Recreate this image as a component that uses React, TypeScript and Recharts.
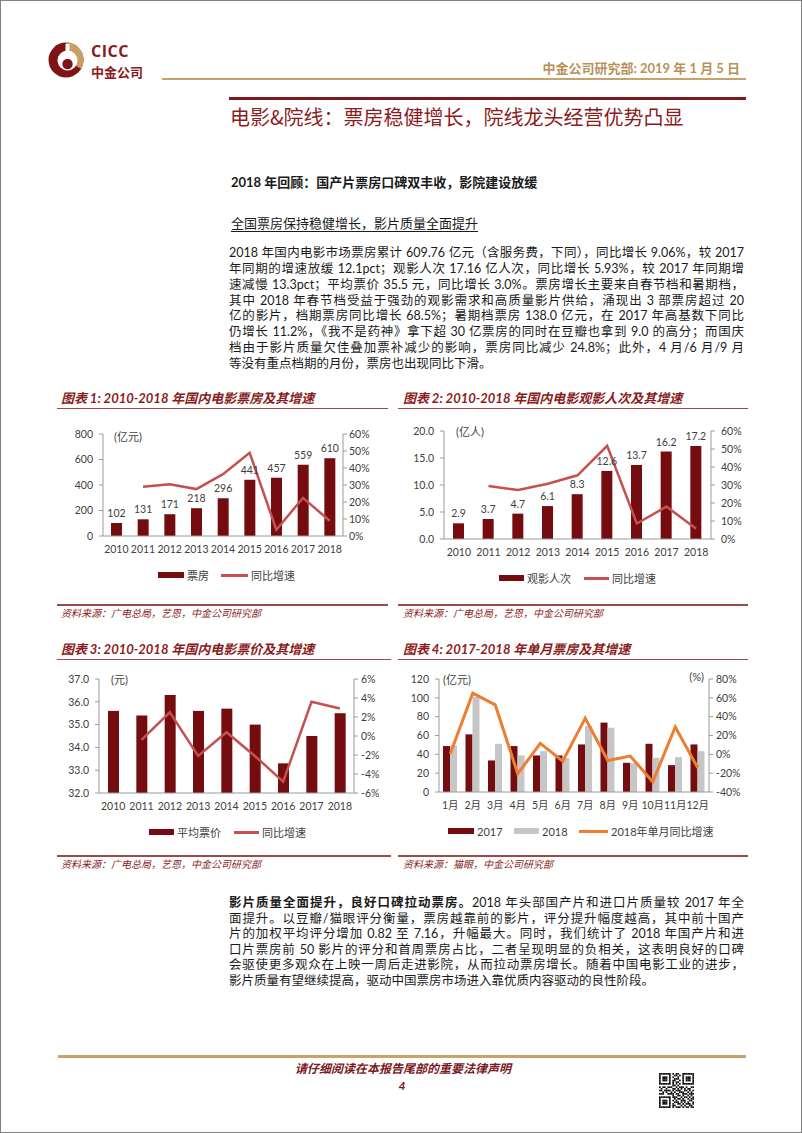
import React from 'react';
import { ComposedChart, Bar, Line, XAxis, YAxis, LabelList } from 'recharts';

// ---------- data ----------
const years = ['2010', '2011', '2012', '2013', '2014', '2015', '2016', '2017', '2018'];
const boxOffice = [102, 131, 171, 218, 296, 441, 457, 559, 610];
const boxOfficeGrowth = [null, 29.0, 30.4, 27.6, 36.4, 48.9, 3.7, 22.4, 9.0];
const admissions = [2.9, 3.7, 4.7, 6.1, 8.3, 12.6, 13.7, 16.2, 17.2];
const admissionsGrowth = [null, 29.4, 27.2, 30.7, 35.4, 51.8, 8.6, 18.0, 5.7];
const avgPrice = [35.6, 35.4, 36.3, 35.6, 35.7, 35.0, 33.3, 34.5, 35.5];
const priceGrowth = [null, -0.4, 2.5, -2.1, 0.4, -2.1, -4.8, 3.6, 2.9];
const months = ['1月', '2月', '3月', '4月', '5月', '6月', '7月', '8月', '9月', '10月', '11月', '12月'];
const monthly2017 = [48.8, 61.2, 33.5, 48.8, 38.8, 38.8, 50.5, 73.7, 31.0, 51.2, 28.5, 50.5];
const monthly2018 = [49.5, 101.0, 51.2, 39.0, 43.4, 36.0, 70.0, 68.3, 30.5, 36.3, 37.0, 43.4];
const monthlyGrowth2018 = [0.6, 65.0, 52.6, -20.7, 11.7, -7.2, 38.4, -6.5, -1.8, -29.2, 29.1, -14.3];

const ticksBox = [0, 200, 400, 600, 800];
const ticksAdm = [0, 5, 10, 15, 20];
const ticksPrice = [32, 33, 34, 35, 36, 37];
const ticksMonthly = [0, 20, 40, 60, 80, 100, 120];
const ticksPct60 = [0, 10, 20, 30, 40, 50, 60];
const ticksPct6 = [-6, -4, -2, 0, 2, 4, 6];
const ticksPct80 = [-40, -20, 0, 20, 40, 60, 80];

const para1 = [
  '2018 年国内电影市场票房累计 609.76 亿元（含服务费，下同），同比增长 9.06%，较 2017',
  '年同期的增速放缓 12.1pct；观影人次 17.16 亿人次，同比增长 5.93%，较 2017 年同期增',
  '速减慢 13.3pct；平均票价 35.5 元，同比增长 3.0%。票房增长主要来自春节档和暑期档，',
  '其中 2018 年春节档受益于强劲的观影需求和高质量影片供给，涌现出 3 部票房超过 20',
  '亿的影片，档期票房同比增长 68.5%；暑期档票房 138.0 亿元，在 2017 年高基数下同比',
  '仍增长 11.2%，《我不是药神》拿下超 30 亿票房的同时在豆瓣也拿到 9.0 的高分；而国庆',
  '档由于影片质量欠佳叠加票补减少的影响，票房同比减少 24.8%；此外，4 月/6 月/9 月',
  '等没有重点档期的月份，票房也出现同比下滑。',
];
const para2Bold = '影片质量全面提升，良好口碑拉动票房。';
const para2 = [
  '2018 年头部国产片和进口片质量较 2017 年全',
  '面提升。以豆瓣/猫眼评分衡量，票房越靠前的影片，评分提升幅度越高，其中前十国产',
  '片的加权平均评分增加 0.82 至 7.16，升幅最大。同时，我们统计了 2018 年国产片和进',
  '口片票房前 50 影片的评分和首周票房占比，二者呈现明显的负相关，这表明良好的口碑',
  '会驱使更多观众在上映一周后走进影院，从而拉动票房增长。随着中国电影工业的进步，',
  '影片质量有望继续提高，驱动中国票房市场进入靠优质内容驱动的良性阶段。',
];

const qr = [
  '111111101011001111111',
  '100000100110101000001',
  '101110101001001011101',
  '101110100111001011101',
  '101110101100101011101',
  '100000101011001000001',
  '111111101010101111111',
  '000000001101000000000',
  '101101110010111010011',
  '010010001101010101100',
  '110111101011100110101',
  '001010010100111001010',
  '111001111011001110111',
  '000000001001101001010',
  '111111101110010110101',
  '100000100101101001011',
  '101110101010011100110',
  '101110100111010101001',
  '101110101001101011101',
  '100000101100010100110',
  '111111101011101011011',
];

// ---------- styles ----------
const FONT = 'Lato, "Noto Sans CJK SC", sans-serif';
const DARK = '#740C10';
const LINE_RED = '#C5504F';
const ORANGE = '#ED7D31';
const GRAY_BAR = '#C6C6C6';
const AXIS = '#9A9A9A';
const TXT = '#404040';
const TITLE_RED = '#8B1C1C';
const TAN = '#C9A26A';
const RULE = '#9B4A4A';

const tickStyle = { fontSize: 10.5, fill: TXT, fontFamily: FONT };
const axisLine = { stroke: AXIS, strokeWidth: 1 };
const tickLineStyle = { stroke: AXIS };

function Txt(props: any) {
  const { x, y, size, color = '#1a1a1a', bold, italic, children, anchor = 'left', style, lhf = 1.4 } = props;
  const lh = Math.round(size * lhf);
  const s: any = {
    position: 'absolute',
    top: y - lh / 2,
    fontSize: size,
    lineHeight: lh + 'px',
    color,
    fontWeight: bold ? 700 : 400,
    fontStyle: italic ? 'italic' : 'normal',
    whiteSpace: 'nowrap',
    fontFamily: FONT,
    ...style,
  };
  if (anchor === 'left') s.left = x;
  else if (anchor === 'right') s.right = 802 - x;
  else {
    s.left = x;
    s.transform = 'translateX(-50%)';
  }
  return <div style={s}>{children}</div>;
}

function HLine({ x1, x2, y, h = 1, color }: any) {
  return <div style={{ position: 'absolute', left: x1, top: y - h / 2, width: x2 - x1, height: h, background: color }} />;
}

function LegendItem({ x, y, kind, color, label, w = 26 }: any) {
  const hh = kind === 'bar' ? 6 : 3;
  return (
    <>
      <div style={{ position: 'absolute', left: x, top: y - hh / 2, width: w, height: hh, background: color }} />
      <Txt x={x + w + 3} y={y} size={11} color={TXT}>{label}</Txt>
    </>
  );
}

function ChartHeader({ x1, x2, tx, y, title, srcY, source }: any) {
  return (
    <>
      <Txt x={tx} y={y} size={13} bold italic color={TITLE_RED}>{title}</Txt>
      <HLine x1={x1} x2={x2} y={y + 10.5} h={1.2} color={RULE} />
      <HLine x1={x1} x2={x2} y={srcY} h={1.2} color={RULE} />
      <Txt x={tx} y={srcY + 7.5} size={10} italic color={TITLE_RED}>{source}</Txt>
    </>
  );
}

const pctFmt = (v: number) => `${v}%`;
const oneDec = (v: number) => v.toFixed(1);

function Chart1() {
  const data = years.map((y, i) => ({ name: y, v: boxOffice[i], g: boxOfficeGrowth[i] }));
  return (
    <div style={{ position: 'absolute', left: 56, top: 415 }}>
      <ComposedChart width={340} height={140} data={data} margin={{ top: 18, right: 0, bottom: 0, left: 0 }}>
        <XAxis dataKey="name" interval={0} axisLine={axisLine} tickLine={false} tickSize={6} tickMargin={4} height={20} tick={tickStyle} />
        <YAxis yAxisId="l" width={46} domain={[0, 800]} ticks={ticksBox} axisLine={axisLine} tickLine={tickLineStyle} tickSize={4} tickMargin={6} tick={tickStyle} />
        <YAxis yAxisId="r" orientation="right" width={54} domain={[0, 60]} ticks={ticksPct60} tickFormatter={pctFmt} axisLine={axisLine} tickLine={tickLineStyle} tickSize={4} tickMargin={2} tick={tickStyle} />
        <Bar yAxisId="l" dataKey="v" fill={DARK} barSize={11} isAnimationActive={false}>
          <LabelList dataKey="v" position="top" offset={6} fill={TXT} fontSize={10.5} fontFamily={FONT} />
        </Bar>
        <Line yAxisId="r" dataKey="g" type="linear" stroke={LINE_RED} strokeWidth={2.5} dot={false} isAnimationActive={false} />
      </ComposedChart>
    </div>
  );
}

function Chart2() {
  const data = years.map((y, i) => ({ name: y, v: admissions[i], g: admissionsGrowth[i] }));
  return (
    <div style={{ position: 'absolute', left: 397, top: 412 }}>
      <ComposedChart width={355} height={146} data={data} margin={{ top: 18, right: 0, bottom: 0, left: 0 }}>
        <XAxis dataKey="name" interval={0} axisLine={axisLine} tickLine={false} tickSize={6} tickMargin={4} height={20} tick={tickStyle} />
        <YAxis yAxisId="l" width={46} domain={[0, 20]} ticks={ticksAdm} tickFormatter={oneDec} axisLine={axisLine} tickLine={tickLineStyle} tickSize={4} tickMargin={6} tick={tickStyle} />
        <YAxis yAxisId="r" orientation="right" width={42} domain={[0, 60]} ticks={ticksPct60} tickFormatter={pctFmt} axisLine={axisLine} tickLine={tickLineStyle} tickSize={4} tickMargin={6} tick={tickStyle} />
        <Bar yAxisId="l" dataKey="v" fill={DARK} barSize={11} isAnimationActive={false}>
          <LabelList dataKey="v" position="top" offset={6} fill={TXT} fontSize={10.5} fontFamily={FONT} formatter={(v: any) => Number(v).toFixed(1)} />
        </Bar>
        <Line yAxisId="r" dataKey="g" type="linear" stroke={LINE_RED} strokeWidth={2.5} dot={false} isAnimationActive={false} />
      </ComposedChart>
    </div>
  );
}

function Chart3() {
  const data = years.map((y, i) => ({ name: y, v: avgPrice[i], g: priceGrowth[i] }));
  return (
    <div style={{ position: 'absolute', left: 56, top: 660 }}>
      <ComposedChart width={340} height={152} data={data} margin={{ top: 18, right: 0, bottom: 0, left: 0 }}>
        <XAxis dataKey="name" interval={0} axisLine={axisLine} tickLine={false} tickSize={6} tickMargin={4} height={20} tick={tickStyle} />
        <YAxis yAxisId="l" width={42} domain={[32, 37]} ticks={ticksPrice} tickFormatter={oneDec} axisLine={axisLine} tickLine={tickLineStyle} tickSize={4} tickMargin={6} tick={tickStyle} />
        <YAxis yAxisId="r" orientation="right" width={43} domain={[-6, 6]} ticks={ticksPct6} tickFormatter={pctFmt} axisLine={axisLine} tickLine={tickLineStyle} tickSize={4} tickMargin={3} tick={tickStyle} />
        <Bar yAxisId="l" dataKey="v" fill={DARK} barSize={11} isAnimationActive={false} />
        <Line yAxisId="r" dataKey="g" type="linear" stroke={LINE_RED} strokeWidth={2.5} dot={false} isAnimationActive={false} />
      </ComposedChart>
    </div>
  );
}

function Chart4() {
  const data = months.map((m, i) => ({ name: m, a: monthly2017[i], b: monthly2018[i], g: monthlyGrowth2018[i] }));
  return (
    <div style={{ position: 'absolute', left: 397, top: 660 }}>
      <ComposedChart width={355} height={151} data={data} margin={{ top: 18, right: 0, bottom: 0, left: 0 }} barGap={0}>
        <XAxis dataKey="name" interval={0} axisLine={axisLine} tickLine={false} tickSize={6} tickMargin={4} height={20} tick={tickStyle} />
        <YAxis yAxisId="l" width={41} domain={[0, 120]} ticks={ticksMonthly} axisLine={axisLine} tickLine={tickLineStyle} tickSize={4} tickMargin={6} tick={tickStyle} />
        <YAxis yAxisId="r" orientation="right" width={44} domain={[-40, 80]} ticks={ticksPct80} tickFormatter={pctFmt} axisLine={axisLine} tickLine={tickLineStyle} tickSize={4} tickMargin={3} tick={tickStyle} />
        <Bar yAxisId="l" dataKey="a" fill={DARK} barSize={7} isAnimationActive={false} />
        <Bar yAxisId="l" dataKey="b" fill={GRAY_BAR} barSize={7} isAnimationActive={false} />
        <Line yAxisId="r" dataKey="g" type="linear" stroke={ORANGE} strokeWidth={3} dot={false} isAnimationActive={false} />
      </ComposedChart>
    </div>
  );
}

function Logo() {
  return (
    <svg style={{ position: 'absolute', left: 47, top: 41 }} width={36} height={36} viewBox="0 0 36 36">
      <circle cx={18} cy={18} r={17.5} fill="#7E1416" />
      <path d="M18 0.5 A17.5 17.5 0 0 1 33.2 26.7 L18 18 Z" fill="#C9A064" />
      <circle cx={19.5} cy={18.5} r={10} fill="#fff" />
      <circle cx={19.5} cy={22} r={5.2} fill="#7E1416" />
      <rect x={17.5} y={2} width={4} height={12} fill="#fff" />
    </svg>
  );
}

function QR() {
  const n = qr.length;
  const s = 35 / n;
  const cells: any[] = [];
  qr.forEach((row, r) =>
    row.split('').forEach((c, k) => {
      if (c === '1') cells.push(<rect key={r + '-' + k} x={k * s} y={r * s} width={s + 0.05} height={s + 0.05} fill="#111" />);
    })
  );
  return (
    <svg style={{ position: 'absolute', left: 658, top: 1072 }} width={35} height={35}>
      {cells}
    </svg>
  );
}

export default function App() {
  const lineStyle: any = {
    height: 15.85,
    lineHeight: '15.85px',
    fontSize: 12.5,
    textAlign: 'justify',
    textAlignLast: 'justify',
    color: '#1a1a1a',
    fontFamily: FONT,
    overflow: 'visible',
  };
  return (
    <div
      style={{
        position: 'absolute',
        left: 0,
        top: 0,
        width: 802,
        height: 1133,
        background: '#fff',
        border: '1px solid #808080',
        boxSizing: 'border-box',
        overflow: 'hidden',
        fontFamily: FONT,
      }}
    >
      {/* header */}
      <Logo />
      <Txt x={90} y={49.5} size={16} lhf={1.0} bold color="#8B1A1A" style={{ fontFamily: '"Open Sans", sans-serif', letterSpacing: 0.5 }}>CICC</Txt>
      <Txt x={90} y={70} size={13} lhf={1.0} bold color="#8B1A1A" style={{ fontFamily: '"Noto Sans CJK SC", sans-serif' }}>中金公司</Txt>
      <Txt x={741} y={67} size={13} bold color="#B8915A" anchor="right">中金公司研究部: 2019 年 1 月 5 日</Txt>
      <HLine x1={161} x2={745} y={77.5} h={2} color={TAN} />
      <HLine x1={228} x2={745} y={97.5} h={3} color="#7A1A1F" />
      <Txt x={229} y={116} size={20} color={TITLE_RED} style={{ fontFamily: '"Noto Sans CJK SC", sans-serif' }}>电影&院线：票房稳健增长，院线龙头经营优势凸显</Txt>

      <Txt x={230} y={181} size={13} bold>2018 年回顾：国产片票房口碑双丰收，影院建设放缓</Txt>
      <Txt x={230} y={222} size={13} style={{ textDecoration: 'underline', textUnderlineOffset: 3 }}>全国票房保持稳健增长，影片质量全面提升</Txt>

      <div style={{ position: 'absolute', left: 228, top: 244, width: 515 }}>
        {para1.map((l, i) => (
          <div key={i} style={{ ...lineStyle, textAlignLast: i === para1.length - 1 ? 'left' : 'justify' }}>{l}</div>
        ))}
      </div>

      {/* charts row 1 */}
      <ChartHeader x1={56} x2={387} tx={60} y={397} title="图表 1: 2010-2018 年国内电影票房及其增速" srcY={604} source="资料来源：广电总局，艺恩，中金公司研究部" />
      <ChartHeader x1={397} x2={747} tx={402} y={397} title="图表 2: 2010-2018 年国内电影观影人次及其增速" srcY={604} source="资料来源：广电总局，艺恩，中金公司研究部" />
      <Chart1 />
      <Chart2 />
      <Txt x={113} y={435} size={11} color={TXT}>(亿元)</Txt>
      <Txt x={455} y={430} size={11} color={TXT}>(亿人)</Txt>
      <LegendItem x={157} y={574} kind="bar" color={DARK} label="票房" />
      <LegendItem x={220} y={574} kind="line" color={LINE_RED} label="同比增速" w={27} />
      <LegendItem x={498} y={577} kind="bar" color={DARK} label="观影人次" w={25} />
      <LegendItem x={583} y={577} kind="line" color={LINE_RED} label="同比增速" w={25} />

      {/* charts row 2 */}
      <ChartHeader x1={56} x2={390} tx={60} y={648} title="图表 3: 2010-2018 年国内电影票价及其增速" srcY={855} source="资料来源：广电总局，艺恩，中金公司研究部" />
      <ChartHeader x1={397} x2={747} tx={402} y={648} title="图表 4: 2017-2018 年单月票房及其增速" srcY={855} source="资料来源：猫眼，中金公司研究部" />
      <Chart3 />
      <Chart4 />
      <Txt x={110} y={678} size={11} color={TXT}>(元)</Txt>
      <Txt x={442} y={678} size={11} color={TXT}>(亿元)</Txt>
      <Txt x={705} y={675} size={11} color={TXT} anchor="right">(%)</Txt>
      <LegendItem x={148} y={831} kind="bar" color={DARK} label="平均票价" w={25} />
      <LegendItem x={233} y={831} kind="line" color={LINE_RED} label="同比增速" w={25} />
      <LegendItem x={447} y={830} kind="bar" color={DARK} label="2017" />
      <LegendItem x={513} y={830} kind="bar" color={GRAY_BAR} label="2018" w={25} />
      <LegendItem x={578} y={830} kind="line" color={ORANGE} label="2018年单月同比增速" w={29} />

      {/* bottom paragraph */}
      <div style={{ position: 'absolute', left: 228, top: 894, width: 515 }}>
        {para2.map((l, i) => (
          <div key={i} style={{ ...lineStyle, height: 15.6, lineHeight: '15.6px', textAlignLast: i === para2.length - 1 ? 'left' : 'justify' }}>
            {i === 0 ? <b>{para2Bold}</b> : null}
            {l}
          </div>
        ))}
      </div>

      {/* footer */}
      <HLine x1={57} x2={745} y={1055} h={3} color={TAN} />
      <Txt x={402} y={1067} size={12} bold italic color="#7A1A1F" anchor="center">请仔细阅读在本报告尾部的重要法律声明</Txt>
      <Txt x={401} y={1084} size={12} bold italic color="#7A1A1F" anchor="center">4</Txt>
      <QR />
    </div>
  );
}
